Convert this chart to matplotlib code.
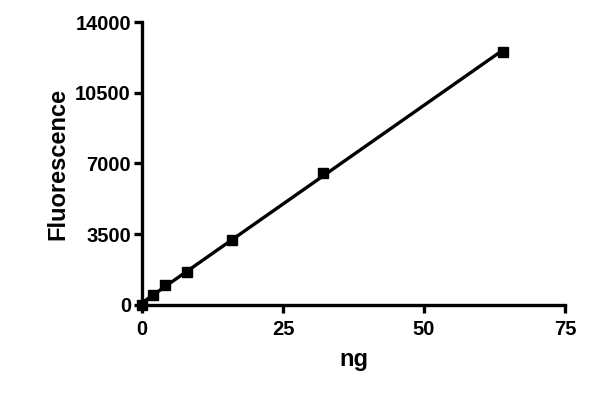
import matplotlib
matplotlib.use("Agg")
import matplotlib.pyplot as plt
import numpy as np

ng = [0, 2, 4, 8, 16, 32, 64]
fluorescence = [0, 480, 980, 1640, 3220, 6540, 12530]
x_ticks = [0, 25, 50, 75]
y_ticks = [0, 3500, 7000, 10500, 14000]

plt.rcParams["font.family"] = ["Liberation Sans", "DejaVu Sans"]
plt.rcParams["font.weight"] = "bold"

fig = plt.figure(figsize=(6, 3.93), dpi=100)
ax = fig.add_axes([0.2367, 0.224, 0.705, 0.72])

slope, intercept = np.polyfit(ng, fluorescence, 1)
fit_x = np.array([min(ng), max(ng)])
ax.plot(fit_x, slope * fit_x + intercept, color="black", lw=2.4, zorder=2)
ax.plot(ng, fluorescence, "s", color="black", ms=7.5, zorder=3, clip_on=False)

ax.set_xlim(0, 75)
ax.set_ylim(0, 14000)
ax.set_xticks(x_ticks)
ax.set_yticks(y_ticks)
for s in ("top", "right"):
    ax.spines[s].set_visible(False)
for s in ("left", "bottom"):
    ax.spines[s].set_linewidth(2.4)
ax.tick_params(width=2.4, length=6, labelsize=14.5)
ax.tick_params(axis="x", pad=5)
ax.tick_params(axis="y", pad=2)
for lab in ax.get_xticklabels() + ax.get_yticklabels():
    lab.set_fontweight("bold")

ax.set_xlabel("ng", fontsize=17, fontweight="bold", labelpad=6)
ax.set_ylabel("Fluorescence", fontsize=17, fontweight="bold", labelpad=4)

fig.savefig("out.png", dpi=100)
